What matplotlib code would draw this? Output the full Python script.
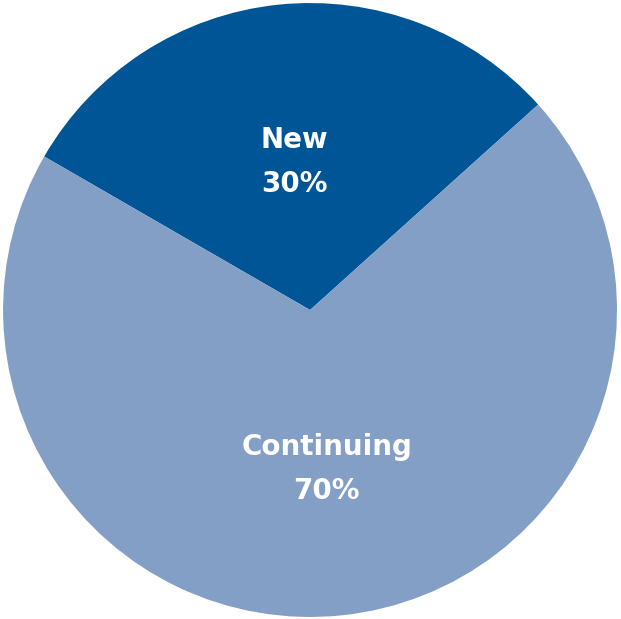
import matplotlib
matplotlib.use("Agg")
import matplotlib.pyplot as plt
import numpy as np

categories = ["New", "Continuing"]
values = [30, 70]
colors = ["#005596", "#849fc6"]
label_dist = [0.485, 0.52]

fig = plt.figure(figsize=(6.21, 6.19), dpi=100)
ax = fig.add_axes([0.0, 0.0, 1.0, 1.0])

def fmt_factory():
    idx = {"i": 0}
    def f(pct):
        lab = categories[idx["i"]]
        idx["i"] += 1
        return f"{lab}\n{pct:.0f}%"
    return f

wedges, _, autotexts = ax.pie(values, colors=colors, startangle=42, counterclock=True,
                              radius=1.0, autopct=fmt_factory(), pctdistance=0.5,
                              wedgeprops=dict(linewidth=0),
                              textprops=dict(color="white", fontsize=20, fontweight="bold",
                                             family="DejaVu Sans", linespacing=1.75))
for w, t, d in zip(wedges, autotexts, label_dist):
    ang = np.deg2rad((w.theta1 + w.theta2) / 2)
    t.set_position((d * np.cos(ang), d * np.sin(ang)))

ax.set_xlim(-1.007, 1.01)
ax.set_ylim(-1.0066, 1.0099)
ax.set_aspect("equal")
ax.axis("off")
fig.savefig("out.png", dpi=100)
